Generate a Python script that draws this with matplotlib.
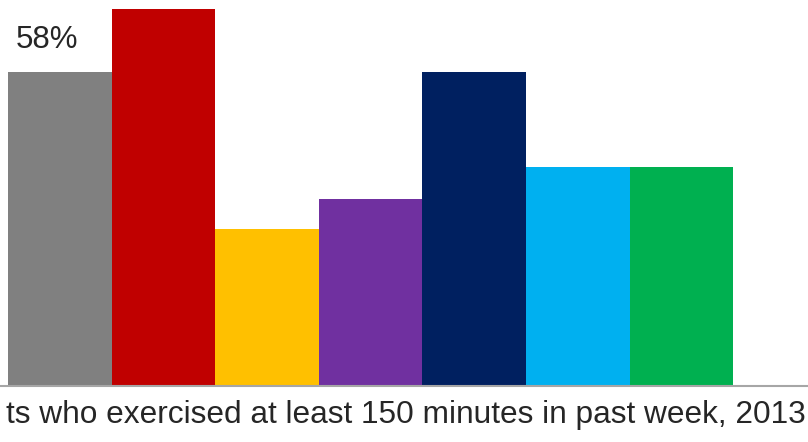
import matplotlib.pyplot as plt

# bar values (percent)
groups = ["g1", "g2", "g3", "g4", "g5", "g6", "g7"]
values = [58, 69.6, 29, 34.5, 58, 40.5, 40.5]
colors = ["#808080", "#C00000", "#FFC000", "#7030A0", "#002060", "#00B0F0", "#00B050"]
label_text = "58%"
title_text = "ts who exercised at least 150 minutes in past week, 2013"

W, H = 808, 442
fig = plt.figure(figsize=(W / 100, H / 100), dpi=100)
ax = fig.add_axes([0, (H - 386) / H, 1, 386 / H])

xs = list(range(len(values)))
ax.bar(xs, values, width=1.0, color=colors, linewidth=0)

bw = 103.6  # px per bar
ax.set_xlim(-0.5 - 8 / bw, -0.5 + 800 / bw)
ax.set_ylim(0, 386 / 5.414)

ax.annotate(label_text, (0, values[0]), xytext=(-9, 12), textcoords="offset points",
            ha="center", va="bottom", fontsize=22.5, color="#262626",
            family="Liberation Sans")

for s in ["top", "left", "right"]:
    ax.spines[s].set_visible(False)
ax.spines["bottom"].set_color("#a6a6a6")
ax.spines["bottom"].set_linewidth(1.5)
ax.set_xticks([])
ax.set_yticks([])

fig.text(806 / W, 1 - 423 / H, title_text, ha="right", va="baseline",
         fontsize=22.8, color="#262626", family="Liberation Sans")

fig.savefig("out.png", dpi=100)
